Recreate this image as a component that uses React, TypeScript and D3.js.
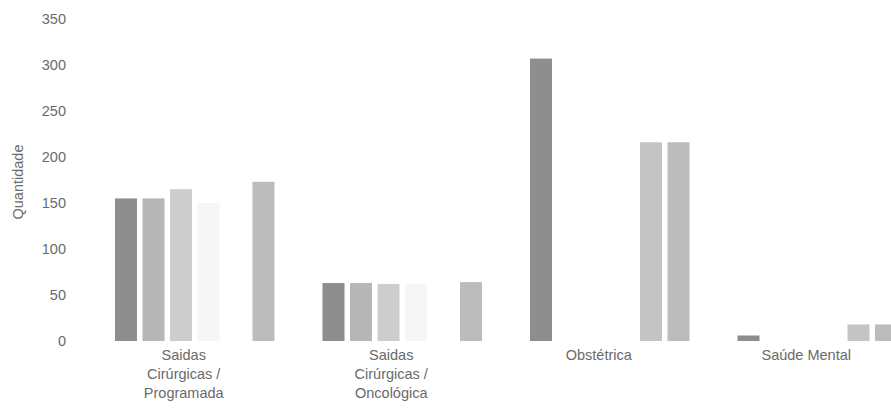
import React from "react";
import * as d3 from "d3";

const categories = [
  ["Saidas", "Cirúrgicas /", "Programada"],
  ["Saidas", "Cirúrgicas /", "Oncológica"],
  ["Obstétrica"],
  ["Saúde Mental"],
];
const categoryKeys = ["prog", "onco", "obst", "mental"];
const seriesKeys = ["s1", "s2", "s3", "s4", "s5", "s6"];
const s1 = [155, 63, 307, 6];
const s2 = [155, 63, 0, 0];
const s3 = [165, 62, 0, 0];
const s4 = [150, 62, 0, 0];
const s5 = [0, 0, 216, 18];
const s6 = [173, 64, 216, 18];
const seriesValues = [s1, s2, s3, s4, s5, s6];
const seriesColors = ["#8e8e8e", "#b6b6b6", "#cdcdcd", "#f6f6f6", "#c4c4c4", "#bcbcbc"];
const yTicks = [0, 50, 100, 150, 200, 250, 300, 350];

const W = 891;
const H = 415;

export default function App() {
  const x0 = d3.scaleBand<string>().domain(categoryKeys).range([94, 924]).padding(0);
  const x1 = d3
    .scaleBand<string>()
    .domain(seriesKeys)
    .range([21, 180.5])
    .paddingInner(0.2)
    .paddingOuter(0);
  const y = d3.scaleLinear().domain([0, 350]).range([341, 19]);
  const textColor = "#6a6a6a";
  const font = "'Liberation Sans', Arial, sans-serif";

  return (
    <svg
      width={W}
      height={H}
      viewBox={`0 0 ${W} ${H}`}
      style={{ position: "absolute", left: 0, top: 0, display: "block", background: "#fff" }}
    >
      <g>
        {categoryKeys.map((c, ci) =>
          seriesKeys.map((s, si) => {
            const v = seriesValues[si][ci];
            if (!v) return null;
            return (
              <rect
                key={c + s}
                x={(x0(c) as number) + (x1(s) as number)}
                y={y(v)}
                width={x1.bandwidth()}
                height={y(0) - y(v)}
                fill={seriesColors[si]}
              />
            );
          })
        )}
      </g>
      <g fontFamily={font} fontSize={14.5} fill={textColor}>
        {yTicks.map((t) => (
          <text key={t} x={66} y={y(t)} dy="0.35em" textAnchor="end">
            {t}
          </text>
        ))}
        <text
          transform={`translate(23,${(y(0) + y(350)) / 2 + 2}) rotate(-90)`}
          textAnchor="middle"
        >
          Quantidade
        </text>
        {categoryKeys.map((c, ci) => {
          const cx = (x0(c) as number) + x1.step() * 2.5 + 21;
          return (
            <text key={c} x={cx} y={360} textAnchor="middle">
              {categories[ci].map((line, li) => (
                <tspan key={li} x={cx} dy={li === 0 ? 0 : 19}>
                  {line}
                </tspan>
              ))}
            </text>
          );
        })}
      </g>
    </svg>
  );
}
